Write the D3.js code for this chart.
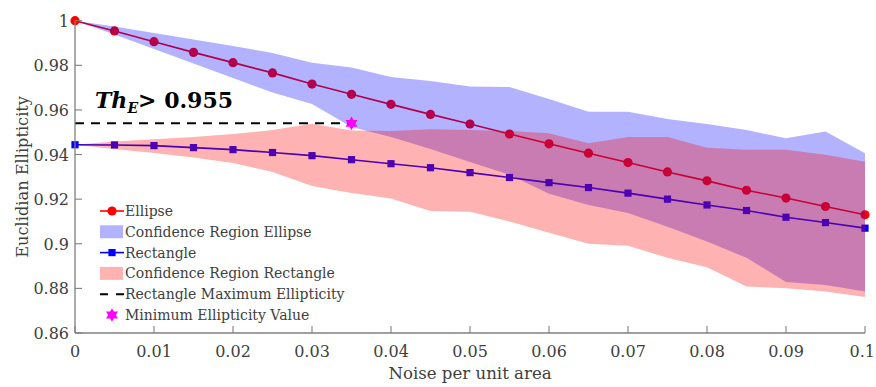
<!DOCTYPE html>
<html><head><meta charset="utf-8">
<script src="https://cdn.jsdelivr.net/npm/d3@7"></script>
<style>body{margin:0;background:#fff}svg{display:block}</style>
</head><body>
<svg id="c" width="876" height="387"></svg>
<script>
const noise = [0,0.005,0.01,0.015,0.02,0.025,0.03,0.035,0.04,0.045,0.05,0.055,0.06,0.065,0.07,0.075,0.08,0.085,0.09,0.095,0.1];
const ellipse = [1.0,0.9954,0.9906,0.9858,0.9812,0.9766,0.9716,0.967,0.9625,0.958,0.9537,0.9492,0.9448,0.9406,0.9364,0.9322,0.9282,0.924,0.9205,0.9167,0.913];
const rectangle = [0.9444,0.9443,0.944,0.9431,0.9422,0.9409,0.9395,0.9377,0.9359,0.9341,0.9319,0.9297,0.9274,0.9252,0.9227,0.92,0.9174,0.9149,0.9119,0.9095,0.907];
const ellipseUpper = [1.0,0.9974,0.9945,0.9916,0.9887,0.9855,0.9812,0.979,0.9748,0.973,0.9705,0.9703,0.9649,0.9592,0.9592,0.9559,0.9537,0.951,0.9473,0.9503,0.9406];
const ellipseLower = [1.0,0.9938,0.9873,0.9808,0.9743,0.9678,0.9627,0.9524,0.9479,0.9425,0.9367,0.9309,0.9224,0.9174,0.9138,0.9076,0.901,0.8937,0.8829,0.8815,0.8786];
const rectUpper = [0.9444,0.9459,0.9468,0.9479,0.9492,0.951,0.9538,0.9508,0.9506,0.9513,0.951,0.9506,0.9496,0.9451,0.9479,0.9479,0.943,0.9421,0.9421,0.9399,0.9368];
const rectLower = [0.9444,0.9425,0.9407,0.9387,0.9362,0.9322,0.9259,0.9228,0.9203,0.9147,0.9144,0.91,0.9049,0.9,0.8991,0.8937,0.8895,0.8808,0.8801,0.8786,0.8761];
const xTicks = [0,0.01,0.02,0.03,0.04,0.05,0.06,0.07,0.08,0.09,0.1];
const xTickLabels = ["0","0.01","0.02","0.03","0.04","0.05","0.06","0.07","0.08","0.09","0.1"];
const yTicks = [0.86,0.88,0.9,0.92,0.94,0.96,0.98,1];
const yTickLabels = ["0.86","0.88","0.9","0.92","0.94","0.96","0.98","1"];
const threshold = 0.954;
const minPoint = [0.035, 0.954];
const legendLabels = ["Ellipse","Confidence Region Ellipse","Rectangle","Confidence Region Rectangle","Rectangle Maximum Ellipticity","Minimum Ellipticity Value"];
const xLabel = "Noise per unit area";
const yLabel = "Euclidian Ellipticity";

const FONT = "'DejaVu Serif', serif";
const svg = d3.select("#c");
const L = 75, R = 865, T = 20.7, B = 333;
const x = d3.scaleLinear().domain([0,0.1]).range([L,R]);
const y = d3.scaleLinear().domain([0.86,1]).range([B,T]);

const RED = "#ff0000", BLUE = "#0000ff";
const hexagram = {draw(ctx, size){
  const r = Math.sqrt(size)/1.6;
  for (let k=0;k<2;k++){
    for (let i=0;i<3;i++){
      const a = -Math.PI/2 + k*Math.PI + i*2*Math.PI/3;
      const px = r*Math.cos(a), py = r*Math.sin(a);
      if (i===0) ctx.moveTo(px,py); else ctx.lineTo(px,py);
    }
    ctx.closePath();
  }
}};

const g = svg.append("g");
// lines + markers (drawn beneath the translucent bands)
const line = d3.line().x((d,i)=>x(noise[i])).y(d=>y(d));
g.append("path").attr("d", line(ellipse)).attr("fill","none").attr("stroke",RED).attr("stroke-width",1.6);
g.selectAll("circle.e").data(ellipse).join("circle").attr("class","e")
  .attr("cx",(d,i)=>x(noise[i])).attr("cy",d=>y(d)).attr("r",4.6).attr("fill",RED);
g.append("path").attr("d", line(rectangle)).attr("fill","none").attr("stroke",BLUE).attr("stroke-width",1.6);
g.selectAll("rect.r").data(rectangle).join("rect").attr("class","r")
  .attr("x",(d,i)=>x(noise[i])-3.6).attr("y",d=>y(d)-3.6).attr("width",7.2).attr("height",7.2).attr("fill",BLUE);

// bands
const area = (up, lo) => d3.area().x((d,i)=>x(noise[i])).y0((d,i)=>y(lo[i])).y1((d,i)=>y(up[i]))(noise);
g.append("path").attr("d", area(ellipseUpper, ellipseLower)).attr("fill",BLUE).attr("fill-opacity",0.3);
g.append("path").attr("d", area(rectUpper, rectLower)).attr("fill",RED).attr("fill-opacity",0.3);

// threshold dashed line + star
g.append("line").attr("x1",x(0)).attr("x2",x(minPoint[0])).attr("y1",y(threshold)).attr("y2",y(threshold))
  .attr("stroke","#000").attr("stroke-width",2).attr("stroke-dasharray","9,7");
g.append("path").attr("d", d3.symbol().type(hexagram).size(120)())
  .attr("transform",`translate(${x(minPoint[0])},${y(minPoint[1])})`).attr("fill","#ff00ff");

// axes
const AX = "#7f7f7f", TXT = "#404040";
const ax = svg.append("g");
ax.append("line").attr("x1",L).attr("x2",L).attr("y1",T).attr("y2",B).attr("stroke",AX).attr("stroke-width",1.3);
ax.append("line").attr("x1",L).attr("x2",R).attr("y1",B).attr("y2",B).attr("stroke",AX).attr("stroke-width",1.3);
xTicks.forEach((t,i)=>{
  ax.append("line").attr("x1",x(t)).attr("x2",x(t)).attr("y1",B).attr("y2",B-7).attr("stroke",AX).attr("stroke-width",1.1);
  const last = i === xTicks.length-1;
  ax.append("text").attr("x", last ? 875 : x(t)).attr("y",B+24).attr("text-anchor", last ? "end" : "middle")
    .attr("font-family",FONT).attr("font-size",16).attr("fill",TXT).text(xTickLabels[i]);
});
yTicks.forEach((t,i)=>{
  ax.append("line").attr("x1",L).attr("x2",L+7).attr("y1",y(t)).attr("y2",y(t)).attr("stroke",AX).attr("stroke-width",1.1);
  ax.append("text").attr("x",L-6).attr("y",y(t)+6).attr("text-anchor","end")
    .attr("font-family",FONT).attr("font-size",16).attr("fill",TXT).text(yTickLabels[i]);
});
ax.append("text").attr("x",(L+R)/2).attr("y",379).attr("text-anchor","middle")
  .attr("font-family",FONT).attr("font-size",16.6).attr("fill",TXT).text(xLabel);
ax.append("text").attr("transform",`translate(28,${(T+B)/2}) rotate(-90)`).attr("text-anchor","middle")
  .attr("font-family",FONT).attr("font-size",16.2).attr("fill",TXT).text(yLabel);

// annotation
const ann = svg.append("text").attr("x",95).attr("y",108).attr("font-family",FONT)
  .attr("font-weight","bold").attr("font-size",22).attr("fill","#000");
ann.append("tspan").attr("font-style","italic").text("Th");
ann.append("tspan").attr("font-style","italic").attr("font-size",14).attr("dy",5).text("E");
ann.append("tspan").attr("dy",-5).text("> 0.955");

// legend
const lg = svg.append("g");
const ly0 = 211, ldy = 20.8, lx0 = 100, lx1 = 124;
legendLabels.forEach((lab,i)=>{
  const cy = ly0 + i*ldy;
  const row = lg.append("g");
  if (i===0 || i===2){
    const c = i===0 ? RED : BLUE;
    row.append("line").attr("x1",lx0).attr("x2",lx1).attr("y1",cy).attr("y2",cy).attr("stroke",c).attr("stroke-width",1.6);
    if (i===0) row.append("circle").attr("cx",(lx0+lx1)/2).attr("cy",cy).attr("r",4.6).attr("fill",c);
    else row.append("rect").attr("x",(lx0+lx1)/2-3.6).attr("y",cy-3.6).attr("width",7.2).attr("height",7.2).attr("fill",c);
  } else if (i===1 || i===3){
    row.append("rect").attr("x",lx0).attr("y",cy-6.5).attr("width",lx1-lx0-1).attr("height",13)
      .attr("fill", i===1 ? BLUE : RED).attr("fill-opacity",0.3);
  } else if (i===4){
    row.append("line").attr("x1",lx0).attr("x2",lx1).attr("y1",cy).attr("y2",cy)
      .attr("stroke","#000").attr("stroke-width",2).attr("stroke-dasharray","8,8");
  } else {
    row.append("path").attr("d", d3.symbol().type(hexagram).size(120)())
      .attr("transform",`translate(${(lx0+lx1)/2},${cy})`).attr("fill","#ff00ff");
  }
  row.append("text").attr("x",lx1+1).attr("y",cy+5).attr("font-family",FONT).attr("font-size",14)
    .attr("fill",TXT).text(lab);
});
</script>
</body></html>
